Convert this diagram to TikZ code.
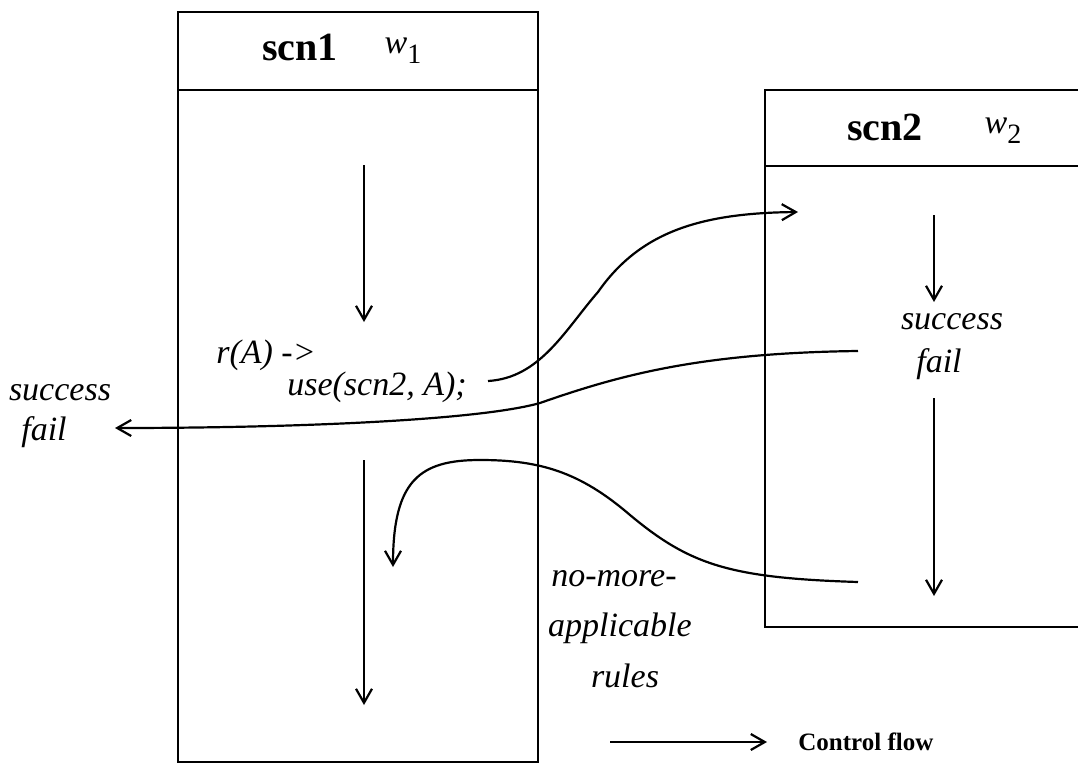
\documentclass[tikz,border=0pt]{standalone}
\usepackage{fontspec}
\setmainfont{Liberation Serif}
\usetikzlibrary{arrows.meta}
\newcommand{\wsub}[1]{{\itshape w}\raisebox{-5pt}{\fontsize{14}{14}\selectfont #1}}
\begin{document}
\begin{tikzpicture}[x=0.5pt,y=-0.5pt,
  frame/.style={line width=1.3pt},
  flow/.style={line width=1.1pt,-{Straight Barb[length=7pt,width=8pt,line width=1.1pt]}},
  title/.style={font=\fontsize{20}{24}\selectfont\bfseries,inner sep=0pt},
  wlabel/.style={font=\fontsize{17}{20}\selectfont,inner sep=0pt},
  lbl/.style={font=\fontsize{17}{20}\selectfont\itshape,inner sep=0pt},
  legend/.style={font=\fontsize{12.5}{15}\selectfont\bfseries,inner sep=0pt,anchor=west}]
\useasboundingbox (0,0) rectangle (1078,777);
\clip (0,0) rectangle (1078,777);

% rule set scn1
\draw[frame] (178,12) rectangle (538,762);
\draw[frame] (178,90) -- (538,90);
\node[title] (t1) at (300,47) {scn1};
\node[wlabel] (w1) at (403,51) {\wsub{1}};

% rule set scn2
\draw[frame] (765,90) rectangle (1095,627);
\draw[frame] (765,166) -- (1095,166);
\node[title] (t2) at (885,127) {scn2};
\node[wlabel] (w2) at (1003,131) {\wsub{2}};

% labels
\node[lbl] (rA) at (266,355) {r(A) ->};
\node[lbl] (use) at (377,387) {use(scn2, A);};
\node[lbl] (s2) at (952,322) {success};
\node[lbl] (f2) at (939,364) {fail};
\node[lbl] (s0) at (60,393) {success};
\node[lbl] (f0) at (44,432) {fail};
\node[lbl] (nm1) at (614,579) {no-more-};
\node[lbl] (nm2) at (620,628) {applicable};
\node[lbl] (nm3) at (625,676) {rules};

% sequential flow inside the rule sets
\coordinate (a1) at (364,165); \coordinate (a2) at (364,322);
\coordinate (b1) at (364,460); \coordinate (b2) at (364,705);
\coordinate (c1) at (934,215); \coordinate (c2) at (934,302);
\coordinate (d1) at (934,398); \coordinate (d2) at (934,596);
\draw[flow] (a1) -- (a2);
\draw[flow] (b1) -- (b2);
\draw[flow] (c1) -- (c2);
\draw[flow] (d1) -- (d2);

% call of scn2
\coordinate (call0) at (488,381);
\coordinate (call1) at (798,212);
\draw[flow] (call0) .. controls (540,378) and (565,330) .. (598,292)
  .. controls (640,232) and (700,213) .. (call1);

% result returned to the caller
\coordinate (ret0) at (858,351);
\coordinate (ret1) at (115,428);
\draw[flow] (ret0) .. controls (700,353) and (620,375) .. (540,403)
  .. controls (480,420) and (300,428) .. (ret1);

% backtracking into scn1
\coordinate (bt0) at (858,582);
\coordinate (bt1) at (393,567);
\draw[flow] (bt0) .. controls (730,578) and (690,565) .. (630,515)
  .. controls (580,472) and (540,460) .. (480,460)
  .. controls (420,460) and (393,480) .. (bt1);

% legend
\coordinate (lg0) at (610,742);
\coordinate (lg1) at (767,742);
\draw[flow] (lg0) -- (lg1);
\node[legend] (lgt) at (798,742) {Control flow};
\end{tikzpicture}
\end{document}
